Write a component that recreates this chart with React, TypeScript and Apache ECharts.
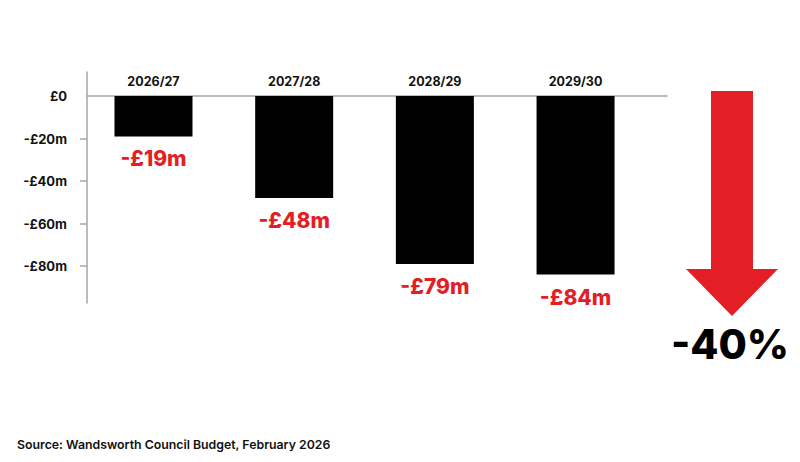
import React, { useEffect, useRef } from "react";
import * as echarts from "echarts";

// Funding change by year (£m)
const categories = ["2026/27", "2027/28", "2028/29", "2029/30"];
const values = [-19, -48, -79, -84];
const yTickValues = [0, -20, -40, -60, -80];
const yTickLabels = ["£0", "-£20m", "-£40m", "-£60m", "-£80m"];
const headline = "-40%";
const source = "Source: Wandsworth Council Budget, February 2026";

const RED = "#e31e24";
const FONT = "Inter, 'Noto Sans', sans-serif";

const App: React.FC = () => {
  const chartRef = useRef<HTMLDivElement>(null);

  useEffect(() => {
    if (!chartRef.current) return;
    const chart = echarts.init(chartRef.current, null, { renderer: "svg" });

    const option = {
      animation: false,
      backgroundColor: "#ffffff",
      grid: { left: 87, right: 133, top: 72, bottom: 159 },
      xAxis: {
        type: "value",
        position: "top",
        // zero of the y scale sits 24px below the grid top
        offset: -24,
        min: -0.4726,
        max: 3.65,
        splitLine: { show: false },
        axisTick: { show: false },
        axisLine: { show: true, onZero: false, lineStyle: { color: "#a6a6a6", width: 1.5 } },
        axisLabel: {
          margin: 8,
          customValues: [0, 1, 2, 3],
          formatter: (v: number) => {
            const i = Math.round(v);
            return Math.abs(v - i) < 1e-6 && categories[i] ? categories[i] : "";
          },
          color: "#111111",
          fontFamily: FONT,
          fontWeight: 700,
          fontSize: 12.5,
        },
      },
      yAxis: {
        type: "value",
        min: -97.4,
        max: 11.3,
        splitLine: { show: false },
        axisLine: { show: true, onZero: false, lineStyle: { color: "#a6a6a6", width: 1.5 } },
        axisTick: {
          show: true,
          length: 7,
          customValues: yTickValues.filter((v) => v !== 0),
          lineStyle: { color: "#a6a6a6", width: 1.5 },
        },
        axisLabel: {
          margin: 20,
          customValues: yTickValues,
          formatter: (v: number) => {
            const i = yTickValues.indexOf(v);
            return i >= 0 ? yTickLabels[i] : "";
          },
          color: "#111111",
          fontFamily: FONT,
          fontWeight: 700,
          fontSize: 13,
        },
      },
      series: [
        {
          type: "bar",
          barWidth: 78,
          data: values.map((v, i) => [i, v]),
          itemStyle: { color: "#000000" },
          label: {
            show: true,
            position: "bottom",
            distance: 12,
            formatter: (p: any) => `-£${Math.abs(p.value[1])}m`,
            color: RED,
            fontFamily: FONT,
            fontWeight: 800,
            fontSize: 21,
          },
        },
      ],
      graphic: [
        {
          type: "polygon",
          shape: {
            points: [
              [711, 91],
              [753, 91],
              [753, 269],
              [778, 269],
              [732, 316],
              [686, 269],
              [711, 269],
            ],
          },
          style: { fill: RED },
        },
        {
          type: "text",
          x: 730,
          y: 344,
          style: {
            text: headline,
            fill: "#000000",
            font: `800 41px ${FONT}`,
            align: "center",
            verticalAlign: "middle",
          },
        },
        {
          type: "text",
          x: 17,
          y: 444,
          style: {
            text: source,
            fill: "#111111",
            font: `600 12.3px ${FONT}`,
            align: "left",
            verticalAlign: "middle",
          },
        },
      ],
    };

    chart.setOption(option as any);

    const handleResize = () => chart.resize();
    window.addEventListener("resize", handleResize);
    return () => {
      window.removeEventListener("resize", handleResize);
      chart.dispose();
    };
  }, []);

  return (
    <div
      ref={chartRef}
      style={{ position: "absolute", left: 0, top: 0, width: "800px", height: "462px" }}
    />
  );
};

export default App;
